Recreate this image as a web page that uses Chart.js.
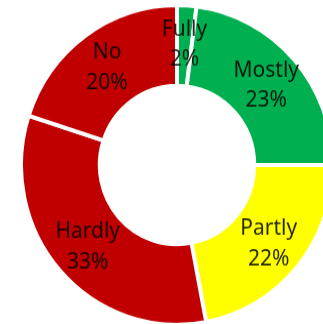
<!DOCTYPE html>
<html>
<head>
<meta charset="utf-8">
<script src="https://cdn.jsdelivr.net/npm/chart.js@4"></script>
<style>
  html, body { margin: 0; padding: 0; background: #fff; overflow: hidden; }
  body { width: 323px; height: 324px; position: relative; }
  #wrap {
    position: absolute; left: 19px; top: 6.5px; width: 316px; height: 316px;
    transform: scaleY(1.025); transform-origin: 50% 50%;
  }
</style>
</head>
<body>
<div id="wrap"><canvas id="donut"></canvas></div>
<script>
// Chart data
const categories = ['Fully', 'Mostly', 'Partly', 'Hardly', 'No'];
const shares = [2, 23, 22, 33, 20];
const sliceColors = ['#00B050', '#00B050', '#FFFF00', '#C00000', '#C00000'];

// draws "Name" and "NN%" on every slice
const sliceLabels = {
    id: 'sliceLabels',
    afterDatasetsDraw(chart) {
        const ctx = chart.ctx;
        const meta = chart.getDatasetMeta(0);
        ctx.save();
        ctx.font = '21px "Noto Sans"';
        ctx.textAlign = 'center';
        ctx.textBaseline = 'alphabetic';
        ctx.fillStyle = 'rgba(0,0,0,0.86)';
        meta.data.forEach((arc, i) => {
            const p = arc.getProps(['x', 'y', 'startAngle', 'endAngle', 'innerRadius', 'outerRadius']);
            const mid = (p.startAngle + p.endAngle) / 2;
            const r = p.innerRadius + (p.outerRadius - p.innerRadius) * 0.53;
            const px = p.x + Math.cos(mid) * r;
            const py = p.y + Math.sin(mid) * r;
            ctx.fillText(categories[i], px, py - 7.5);
            ctx.fillText(shares[i] + '%', px, py + 22);
        });
        ctx.restore();
    }
};

new Chart(document.getElementById('donut'), {
    type: 'doughnut',
    data: {
        labels: categories,
        datasets: [{
            data: shares,
            backgroundColor: sliceColors,
            borderColor: '#ffffff',
            borderWidth: 4
        }]
    },
    options: {
        responsive: true,
        maintainAspectRatio: false,
        animation: false,
        cutout: '49.5%',
        layout: { padding: 0 },
        plugins: {
            legend: { display: false },
            tooltip: { enabled: false }
        }
    },
    plugins: [sliceLabels]
});
</script>
</body>
</html>
